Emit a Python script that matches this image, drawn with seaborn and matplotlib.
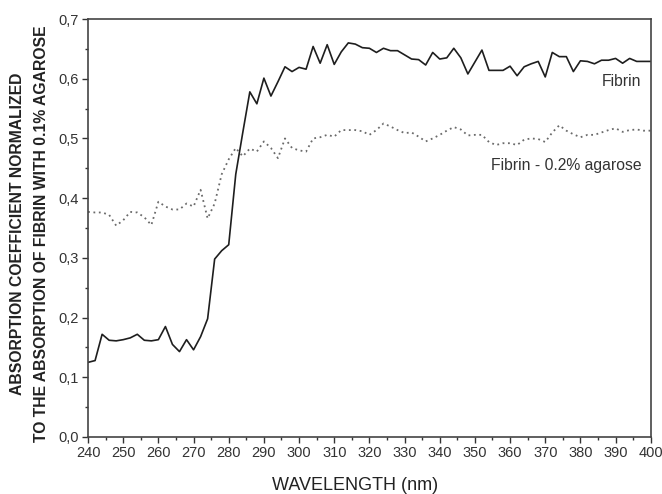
import numpy as np
import pandas as pd
import matplotlib
matplotlib.use("Agg")
import matplotlib.pyplot as plt
from matplotlib.ticker import MultipleLocator, FuncFormatter
import seaborn as sns

wavelength = list(range(240, 401, 2))

fibrin = [
    0.125, 0.128, 0.172, 0.162, 0.161, 0.163, 0.166, 0.172, 0.162, 0.161,
    0.163, 0.185, 0.155, 0.143, 0.163, 0.146, 0.168, 0.198, 0.298, 0.312,
    0.322, 0.440, 0.510, 0.578, 0.558, 0.601, 0.571, 0.595, 0.620, 0.612,
    0.619, 0.616, 0.654, 0.626, 0.657, 0.624, 0.645, 0.660, 0.658, 0.652,
    0.651, 0.644, 0.651, 0.647, 0.647, 0.640, 0.633, 0.632, 0.623, 0.644,
    0.633, 0.635, 0.651, 0.635, 0.608, 0.628, 0.648, 0.614, 0.614, 0.614,
    0.621, 0.605, 0.620, 0.625, 0.629, 0.603, 0.644, 0.637, 0.637, 0.612,
    0.630, 0.629, 0.625, 0.631, 0.631, 0.634, 0.626, 0.634, 0.629, 0.629,
    0.629,
]

fibrin_agarose = [
    0.377, 0.376, 0.376, 0.372, 0.354, 0.363, 0.377, 0.376, 0.368, 0.355,
    0.394, 0.386, 0.381, 0.381, 0.391, 0.386, 0.414, 0.366, 0.391, 0.440,
    0.465, 0.484, 0.470, 0.483, 0.478, 0.495, 0.484, 0.467, 0.500, 0.484,
    0.480, 0.478, 0.500, 0.502, 0.506, 0.503, 0.514, 0.514, 0.514, 0.512,
    0.506, 0.514, 0.525, 0.520, 0.514, 0.509, 0.510, 0.503, 0.495, 0.500,
    0.506, 0.513, 0.519, 0.515, 0.505, 0.506, 0.506, 0.494, 0.489, 0.492,
    0.492, 0.489, 0.498, 0.500, 0.499, 0.494, 0.510, 0.522, 0.513, 0.507,
    0.502, 0.506, 0.506, 0.510, 0.514, 0.517, 0.511, 0.514, 0.515, 0.513,
    0.513,
]

series_labels = ["Fibrin", "Fibrin - 0.2% agarose"]
x_ticks = list(range(240, 401, 10))
y_ticks = [0.0, 0.1, 0.2, 0.3, 0.4, 0.5, 0.6, 0.7]

sns.set_style("ticks")
plt.rcParams["font.family"] = ["Liberation Sans", "DejaVu Sans"]

df1 = pd.DataFrame({"wavelength": wavelength, "value": fibrin})
df2 = pd.DataFrame({"wavelength": wavelength, "value": fibrin_agarose})

fig = plt.figure(figsize=(6.62, 4.94), dpi=100)
ax = fig.add_axes([0.133, 0.1154, 0.850, 0.8461])

sns.lineplot(data=df1, x="wavelength", y="value", ax=ax, color="#1e1e1e",
             linewidth=1.2, linestyle="-")
sns.lineplot(data=df2, x="wavelength", y="value", ax=ax, color="#6a6a6a",
             linewidth=1.3, linestyle=(0, (1, 2)))

ax.set_xlim(240, 400)
ax.set_ylim(0, 0.7)
ax.set_xticks(x_ticks)
ax.set_yticks(y_ticks)
ax.xaxis.set_minor_locator(MultipleLocator(5))
ax.yaxis.set_minor_locator(MultipleLocator(0.05))
ax.yaxis.set_major_formatter(FuncFormatter(lambda v, p: f"{v:.1f}".replace(".", ",")))

ax.tick_params(axis="both", which="major", direction="out", length=4.5, width=1,
               labelsize=10.5, colors="#333333", labelcolor="#333333", pad=2)
ax.tick_params(axis="both", which="minor", direction="out", length=2.5, width=1,
               colors="#333333")
for s in ax.spines.values():
    s.set_visible(True)
    s.set_linewidth(1.2)
    s.set_color("#444444")

ax.set_xlabel("")
ax.set_ylabel("")
fig.text(0.536, 0.017, "WAVELENGTH (nm)", ha="center", va="center",
         fontsize=13, color="#222222")
fig.text(0.027, 0.526, "ABSORPTION COEFFICIENT NORMALIZED", rotation=90,
         ha="center", va="center", fontsize=11.3, fontweight="bold", color="#222222")
fig.text(0.062, 0.526, "TO THE ABSORPTION OF FIBRIN WITH 0.1% AGAROSE", rotation=90,
         ha="center", va="center", fontsize=11.3, fontweight="bold", color="#222222")

ax.text(397.4, 0.595, series_labels[0], ha="right", va="center", fontsize=11.3, color="#333333")
ax.text(397.4, 0.455, series_labels[1], ha="right", va="center", fontsize=11.3, color="#333333")

fig.savefig("out.png", dpi=100)
